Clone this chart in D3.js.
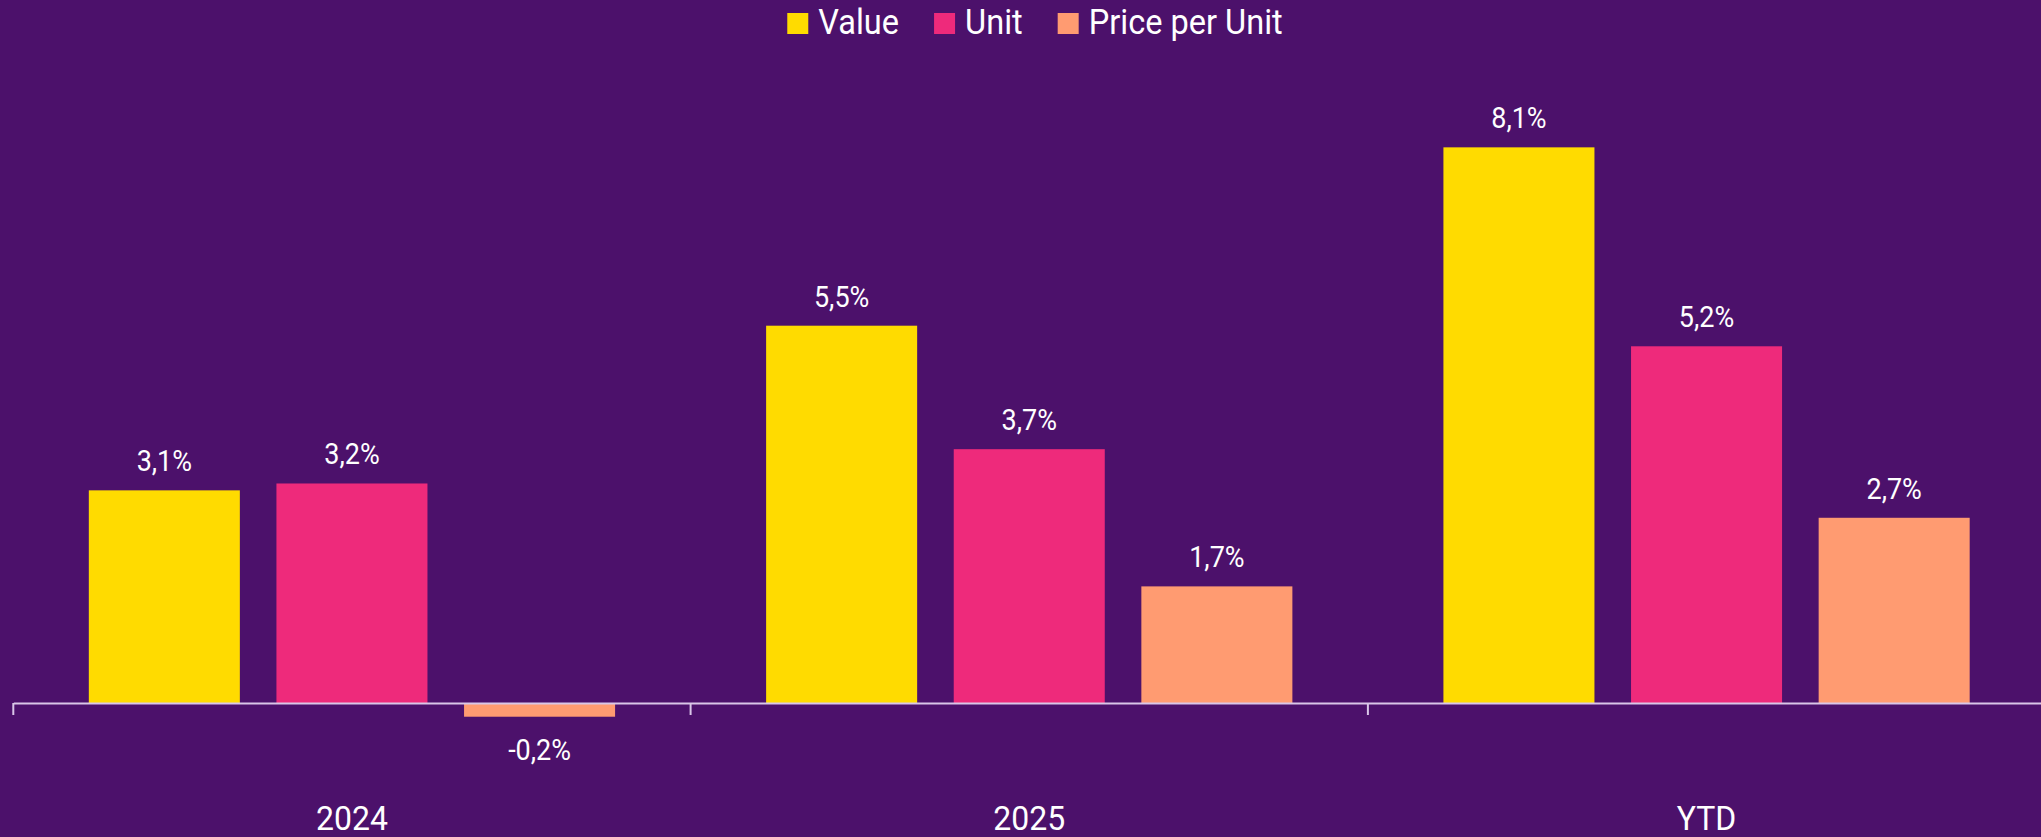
<!DOCTYPE html>
<html>
<head>
<meta charset="utf-8">
<script src="https://cdn.jsdelivr.net/npm/d3@7"></script>
<style>
  html, body { margin: 0; padding: 0; background: #4c116b; }
  svg { display: block; }
  text { font-family: Roboto, "Open Sans", sans-serif; fill: #ffffff; }
</style>
</head>
<body>
<div id="app"></div>
<script>
// data
const categories = ['2024', '2025', 'YTD'];
const seriesNames = ['Value', 'Unit', 'Price per Unit'];
const valueSeries = [3.1, 5.5, 8.1];
const unitSeries = [3.2, 3.7, 5.2];
const priceSeries = [-0.2, 1.7, 2.7];
const seriesColors = ['#ffdb00', '#ee2a7b', '#ff9b71'];

const width = 2041;
const height = 837;
const squeeze = 0.9; // fake a condensed face
const legendSqueeze = 0.93;
const axisY = 703;
const pxPerUnit = 68.6;

const allSeries = [valueSeries, unitSeries, priceSeries];
const rows = categories.map((c, i) => ({
  category: c,
  values: seriesNames.map((s, j) => ({ series: s, value: allSeries[j][i], idx: j })),
}));

const svg = d3.select('#app')
  .append('svg')
  .attr('width', width)
  .attr('height', height);

svg.append('rect')
  .attr('width', width)
  .attr('height', height)
  .attr('fill', '#4c116b');

const x0 = d3.scaleBand()
  .domain(categories)
  .range([13.3, 13.3 + 3 * 677.3])
  .padding(0);

const x1 = d3.scaleBand()
  .domain(seriesNames)
  .range([0, x0.bandwidth()])
  .paddingInner(0.195)
  .paddingOuter(0.4025);

const y = d3.scaleLinear()
  .domain([-1, 9])
  .range([axisY + pxPerUnit, axisY - 9 * pxPerUnit]);

const fmt = v => `${d3.format('.1f')(v).replace('.', ',').replace('−', '-')}%`;

// bars
const groups = svg.selectAll('.group')
  .data(rows)
  .enter()
  .append('g')
  .attr('class', 'group')
  .attr('transform', d => `translate(${x0(d.category)},0)`);

groups.selectAll('rect')
  .data(d => d.values)
  .enter()
  .append('rect')
  .attr('x', d => x1(d.series))
  .attr('width', x1.bandwidth())
  .attr('y', d => y(Math.max(0, d.value)))
  .attr('height', d => Math.abs(y(d.value) - y(0)))
  .attr('fill', d => seriesColors[d.idx]);

// value labels
groups.selectAll('.valueLabel')
  .data(d => d.values)
  .enter()
  .append('text')
  .attr('class', 'valueLabel')
  .attr('font-size', 30)
  .attr('text-anchor', 'middle')
  .attr('transform', (d) => {
    const cx = x1(d.series) + x1.bandwidth() / 2;
    const ty = d.value >= 0 ? y(d.value) - 19 : y(d.value) + 43;
    return `translate(${cx},${ty}) scale(${squeeze},1)`;
  })
  .text(d => fmt(d.value));

// x axis
const axis = svg.append('g')
  .attr('class', 'xAxis')
  .attr('transform', `translate(0,${axisY})`)
  .call(d3.axisBottom(x0).tickSize(0).tickSizeOuter(0));

axis.select('.domain')
  .attr('stroke', '#d9c6e8')
  .attr('stroke-width', 2);

axis.selectAll('.tick text')
  .attr('y', 127)
  .attr('dy', 0)
  .attr('font-size', 34)
  .attr('font-family', 'Roboto, sans-serif')
  .attr('fill', '#ffffff')
  .attr('transform', 'scale(0.94,1)');

// band boundary ticks
axis.selectAll('.bandTick')
  .data(categories)
  .enter()
  .append('line')
  .attr('class', 'bandTick')
  .attr('x1', d => x0(d))
  .attr('x2', d => x0(d))
  .attr('y1', 0)
  .attr('y2', 12)
  .attr('stroke', '#d9c6e8')
  .attr('stroke-width', 2);

// legend
const legend = svg.append('g').attr('class', 'legend');
const legendItems = legend.selectAll('.legendItem')
  .data(seriesNames)
  .enter()
  .append('g')
  .attr('class', 'legendItem');

legendItems.append('rect')
  .attr('width', 21)
  .attr('height', 21)
  .attr('y', 13)
  .attr('fill', (d, i) => seriesColors[i]);

legendItems.append('text')
  .attr('font-size', 35)
  .attr('transform', `translate(31,34) scale(${legendSqueeze},1)`)
  .text(d => d);

let cursor = 0;
legendItems.each(function () {
  const w = d3.select(this).select('text').node().getComputedTextLength() * legendSqueeze;
  d3.select(this).attr('data-x', cursor);
  cursor += 31 + w + 35;
});
const legendWidth = cursor - 35;
const legendStart = 1035 - legendWidth / 2;
legendItems.attr('transform', function () {
  return `translate(${legendStart + +d3.select(this).attr('data-x')},0)`;
});
</script>
</body>
</html>
